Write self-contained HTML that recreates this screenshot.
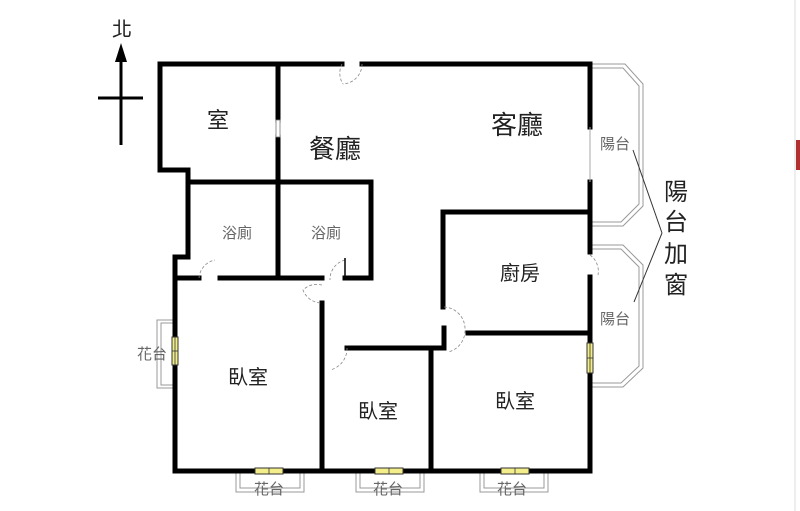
<!DOCTYPE html>
<html><head><meta charset="utf-8"><style>
html,body{margin:0;padding:0;background:#fff;}
svg{display:block;}
text{font-family:"Liberation Sans","Noto Sans CJK TC",sans-serif;}
</style></head><body>
<svg width="800" height="511" viewBox="0 0 800 511" xmlns="http://www.w3.org/2000/svg">
<rect width="800" height="511" fill="#fff"/>
<line x1="795" y1="0" x2="795" y2="511" stroke="#ddd" stroke-width="1"/>
<rect x="796" y="140" width="4" height="30" fill="#b03030"/>
<!-- north arrow -->
<text x="122" y="36" font-size="20" text-anchor="middle" fill="#222">北</text>
<line x1="121" y1="55" x2="121" y2="145" stroke="#000" stroke-width="3"/>
<polygon points="121,43 115,62 127,62" fill="#000"/>
<line x1="98" y1="98" x2="143" y2="98" stroke="#000" stroke-width="3"/>
<!-- balconies (double gray lines) -->
<g fill="none" stroke="#999" stroke-width="1">
<polyline points="590,64 625,64 643,84 643,206 623,226 590,226"/>
<polyline points="590,68 623,68 639,86 639,204 621,222 590,222"/>
<polyline points="590,245 623,245 643,265 643,368 623,387 590,387"/>
<polyline points="590,249 621,249 639,267 639,366 621,383 590,383"/>
<!-- flower boxes -->
<polyline points="175,320 157,320 157,388 175,388"/>
<polyline points="175,323 161,323 161,385 175,385"/>
<polyline points="236,471 236,492 304,492 304,471"/>
<polyline points="240,471 240,488 300,488 300,471"/>
<polyline points="356,471 356,492 424,492 424,471"/>
<polyline points="360,471 360,488 420,488 420,471"/>
<polyline points="480,471 480,492 548,492 548,471"/>
<polyline points="484,471 484,488 544,488 544,471"/>
</g>
<line x1="633" y1="150" x2="662" y2="233" stroke="#333" stroke-width="1"/>
<line x1="662" y1="233" x2="634" y2="302" stroke="#333" stroke-width="1"/>
<!-- walls -->
<g fill="none" stroke="#000" stroke-width="5" stroke-linecap="square" stroke-linejoin="miter">
<polyline points="342,64 160,64 160,170 188,170 188,257 175,257 175,471 590,471 590,277"/>
<line x1="362" y1="64" x2="590" y2="64"/>
<line x1="590" y1="64" x2="590" y2="127"/>
<line x1="590" y1="182" x2="590" y2="252"/>
<line x1="278" y1="64" x2="278" y2="120"/>
<line x1="278" y1="137" x2="278" y2="278"/>
<polyline points="188,182 371,182 371,278 345,278"/>
<line x1="175" y1="278" x2="199" y2="278"/>
<line x1="220" y1="278" x2="322" y2="278"/>
<line x1="322" y1="303" x2="322" y2="471"/>
<polyline points="443,307 443,212 590,212"/>
<line x1="468" y1="333" x2="590" y2="333"/>
<polyline points="444,328 444,348 347,348"/>
<line x1="431" y1="348" x2="431" y2="471"/>
</g>
<!-- window in wall between room & dining -->
<rect x="276" y="120" width="4" height="17" fill="#fff" stroke="#777" stroke-width="0.8"/>
<line x1="590" y1="127" x2="590" y2="182" stroke="#aaa" stroke-width="1"/>
<!-- door arcs -->
<g fill="none" stroke="#888" stroke-width="0.8" stroke-dasharray="3,2">
<path d="M342,64 A20,20 0 0 0 343,84"/>
<path d="M362,64 A20,20 0 0 1 343,84"/>
<path d="M199,278 A20,20 0 0 1 215,260"/>
<path d="M322,285 A20,20 0 0 0 303,290 A20,20 0 0 0 322,303"/>
<path d="M345,260 A20,20 0 0 0 330,280"/>
<path d="M347,348 A22,22 0 0 1 330,370"/>
<path d="M444,307 A22,22 0 0 1 465,330 A22,22 0 0 1 448,352"/>
<path d="M590,255 A20,20 0 0 1 598,275"/>
</g>
<line x1="345" y1="258" x2="345" y2="278" stroke="#000" stroke-width="1.5"/>
<!-- yellow windows -->
<g fill="#f4ee8a" stroke="#333" stroke-width="1">
<rect x="172" y="337" width="6" height="28"/>
<rect x="587" y="343" width="6" height="30"/>
<rect x="255" y="468" width="28" height="6"/>
<rect x="375" y="468" width="28" height="6"/>
<rect x="501" y="468" width="28" height="6"/>
</g>
<g stroke="#333" stroke-width="0.8">
<line x1="172" y1="351" x2="178" y2="351"/><line x1="175" y1="337" x2="175" y2="365"/>
<line x1="587" y1="358" x2="593" y2="358"/><line x1="590" y1="343" x2="590" y2="373"/>
<line x1="269" y1="468" x2="269" y2="474"/><line x1="389" y1="468" x2="389" y2="474"/><line x1="515" y1="468" x2="515" y2="474"/>
</g>
<!-- labels -->
<g fill="#222" text-anchor="middle">
<text x="218" y="128" font-size="22">室</text>
<text x="335" y="158" font-size="26">餐廳</text>
<text x="517" y="134" font-size="26">客廳</text>
<text x="520" y="280" font-size="20">廚房</text>
<text x="248" y="384" font-size="20">臥室</text>
<text x="378" y="418" font-size="20">臥室</text>
<text x="515" y="408" font-size="20">臥室</text>
<text x="676" y="200" font-size="24">陽</text>
<text x="676" y="230" font-size="24">台</text>
<text x="676" y="262" font-size="24">加</text>
<text x="676" y="293" font-size="24">窗</text>
</g>
<g fill="#666" text-anchor="middle" font-size="15">
<text x="237" y="238">浴廁</text>
<text x="326" y="238">浴廁</text>
<text x="615" y="149">陽台</text>
<text x="615" y="324">陽台</text>
<text x="152" y="359">花台</text>
<text x="269" y="494">花台</text>
<text x="388" y="494">花台</text>
<text x="512" y="494">花台</text>
</g>
</svg>
</body></html>
